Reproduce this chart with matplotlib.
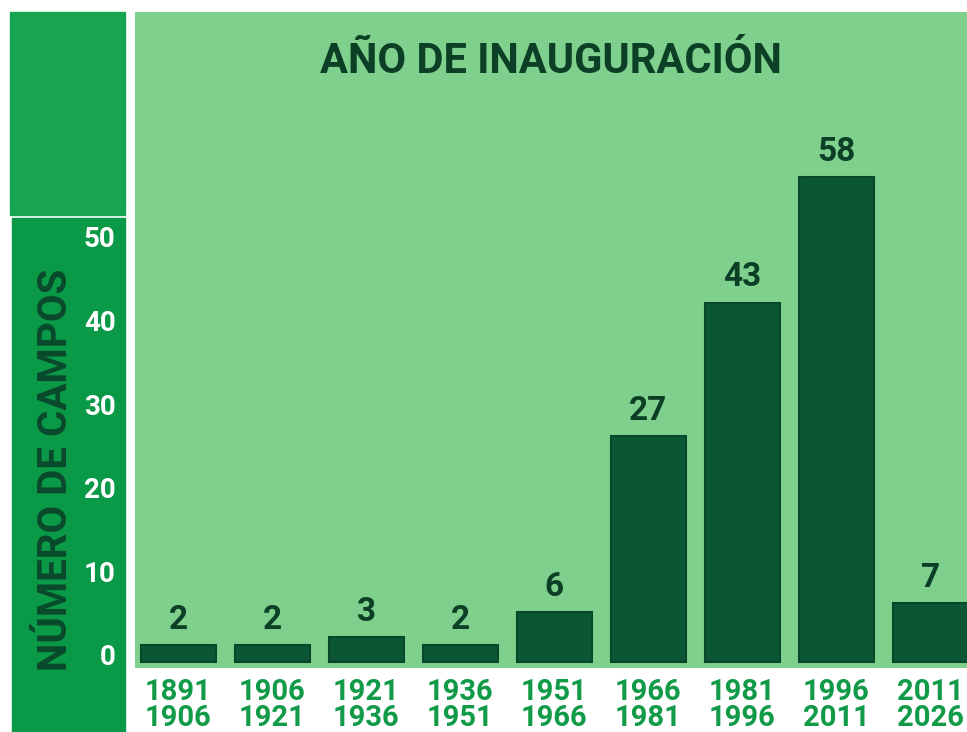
import matplotlib.pyplot as plt
from matplotlib.patches import Rectangle
from matplotlib.transforms import ScaledTranslation

periods = ['1891\n1906', '1906\n1921', '1921\n1936', '1936\n1951', '1951\n1966',
           '1966\n1981', '1981\n1996', '1996\n2011', '2011\n2026']
counts = [2, 2, 3, 2, 6, 27, 43, 58, 7]
yticks = [0, 10, 20, 30, 40, 50]

plt.rcParams['font.family'] = ['Roboto', 'DejaVu Sans']

W, H = 967, 732
fig = plt.figure(figsize=(W / 100, H / 100), dpi=100, facecolor='white')

# green strip on the left holding the y axis
fig.patches.append(Rectangle((10 / W, (H - 215) / H), 115 / W, 203 / H,
                             transform=fig.transFigure, color='#17a552', zorder=-2))
fig.patches.append(Rectangle((12 / W, 0), 113 / W, (H - 218) / H,
                             transform=fig.transFigure, color='#0a9946', zorder=-2))

ax = fig.add_axes([135 / W, (H - 668) / H, (W - 135) / W, (668 - 12) / H])
ax.set_facecolor('#7fd08c')
for s in ax.spines.values():
    s.set_visible(False)

x = range(len(counts))
ax.bar(x, counts, width=0.8, color='#0b5634', edgecolor='#08472a', linewidth=1.5)
for i, v in zip(x, counts):
    ax.text(i, v + 1.1, str(v), ha='center', va='bottom', fontsize=24,
            fontweight='bold', color='#0b3f26')

ax.set_xlim(-0.46, 8.39)
ax.set_ylim(-0.72, 77.75)

ax.set_xticks(list(x))
ax.set_xticklabels(periods, fontsize=21, fontweight='bold', color='#119a48',
                   linespacing=0.9)
ax.set_yticks(yticks)
ax.set_yticklabels([str(t) for t in yticks], fontsize=20, fontweight='bold',
                   color='white')
ax.tick_params(axis='both', length=0)
ax.tick_params(axis='x', pad=7)
ax.tick_params(axis='y', pad=14)
# the tick numbers sit a little above their gridline height in the original
shift = ScaledTranslation(0, 7 / 100, fig.dpi_scale_trans)
for lab in ax.get_yticklabels():
    lab.set_transform(lab.get_transform() + shift)

ax.text(0.5, 0.925, 'AÑO DE INAUGURACIÓN', transform=ax.transAxes, ha='center',
        va='center', fontsize=30, fontweight='bold', color='#0b3f26')

fig.text(56 / W, (H - 470) / H, 'NÚMERO DE CAMPOS', rotation=90, ha='center',
         va='center', fontsize=29, fontweight='bold', color='#0a4a2c')

fig.savefig('out.png', dpi=100, facecolor='white')
